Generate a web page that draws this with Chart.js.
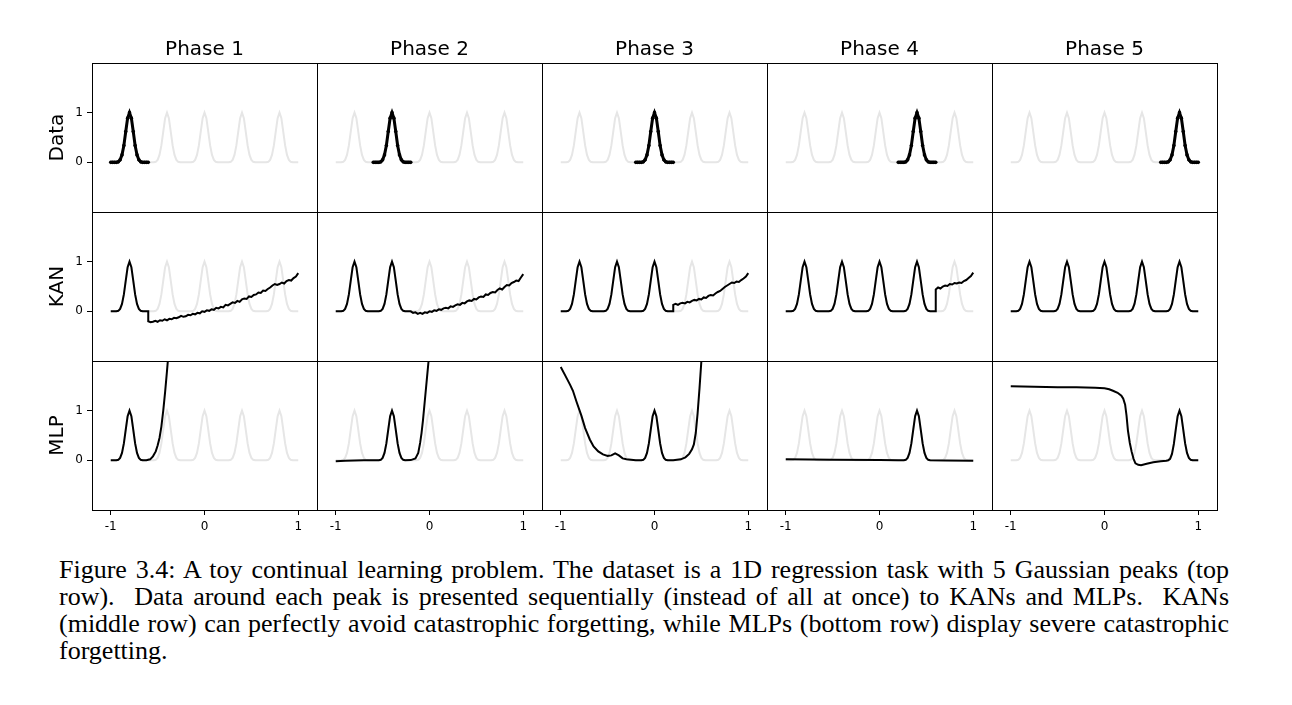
<!DOCTYPE html>
<html>
<head>
<meta charset="utf-8">
<script src="https://cdn.jsdelivr.net/npm/chart.js@4.4.1/dist/chart.umd.min.js"></script>
<style>
  html, body { margin: 0; padding: 0; background: #fff; width: 1292px; height: 705px; overflow: hidden; }
  canvas { position: absolute; }
  #caption { position: absolute; left: 59px; top: 556px; width: 1170px; font-family: 'Liberation Serif', 'Times New Roman', serif; font-size: 26px; line-height: 27px; color: #000; }
  #caption .ln { text-align: justify; text-align-last: justify; }
  #caption .last { text-align-last: left; }
</style>
</head>
<body>
<div id="caption">
  <div class="ln">Figure 3.4: A toy continual learning problem. The dataset is a 1D regression task with 5 Gaussian peaks (top</div>
  <div class="ln">row). &nbsp;Data around each peak is presented sequentially (instead of all at once) to KANs and MLPs. &nbsp;KANs</div>
  <div class="ln">(middle row) can perfectly avoid catastrophic forgetting, while MLPs (bottom row) display severe catastrophic</div>
  <div class="ln last">forgetting.</div>
</div>
<script>
// ---------------- data ----------------
const phases = ['Phase 1', 'Phase 2', 'Phase 3', 'Phase 4', 'Phase 5'];
const rowLabels = ['Data', 'KAN', 'MLP'];
const xTicks = [-1, 0, 1];
const yTicks = [0, 1];

// sample grid of the target function and its values (5 Gaussian peaks)
const gridX = [-1,-0.98,-0.96,-0.94,-0.92,-0.9,-0.88,-0.86,-0.84,-0.82,-0.8,-0.78,-0.76,-0.74,-0.72,-0.7,-0.68,-0.66,-0.64,-0.62,
  -0.6,-0.58,-0.56,-0.54,-0.52,-0.5,-0.48,-0.46,-0.44,-0.42,-0.4,-0.38,-0.36,-0.34,-0.32,-0.3,-0.28,-0.26,-0.24,-0.22,
  -0.2,-0.18,-0.16,-0.14,-0.12,-0.1,-0.08,-0.06,-0.04,-0.02,0,0.02,0.04,0.06,0.08,0.1,0.12,0.14,0.16,0.18,
  0.2,0.22,0.24,0.26,0.28,0.3,0.32,0.34,0.36,0.38,0.4,0.42,0.44,0.46,0.48,0.5,0.52,0.54,0.56,0.58,
  0.6,0.62,0.64,0.66,0.68,0.7,0.72,0.74,0.76,0.78,0.8,0.82,0.84,0.86,0.88,0.9,0.92,0.94,0.96,0.98,1];
const peakY = [0,0,0,0,0.01,0.05,0.15,0.34,0.62,0.89,1,0.89,0.62,0.34,0.15,0.05,0.01,0,0,0,
  0,0,0,0,0.01,0.05,0.15,0.34,0.62,0.89,1,0.89,0.62,0.34,0.15,0.05,0.01,0,0,0,
  0,0,0,0,0.01,0.05,0.15,0.34,0.62,0.89,1,0.89,0.62,0.34,0.15,0.05,0.01,0,0,0,
  0,0,0,0,0.01,0.05,0.15,0.34,0.62,0.89,1,0.89,0.62,0.34,0.15,0.05,0.01,0,0,0,
  0,0,0,0,0.01,0.05,0.15,0.34,0.62,0.89,1,0.89,0.62,0.34,0.15,0.05,0.01,0,0,0,
  0];

// KAN: noisy tail beyond the learned peaks (x grid and per-phase values)
const kanX = [-0.6,-0.575,-0.55,-0.525,-0.5,-0.475,-0.45,-0.425,-0.4,-0.375,-0.35,-0.325,-0.3,-0.275,-0.25,-0.225,
  -0.2,-0.175,-0.15,-0.125,-0.1,-0.075,-0.05,-0.025,0,0.025,0.05,0.075,0.1,0.125,0.15,0.175,
  0.2,0.225,0.25,0.275,0.3,0.325,0.35,0.375,0.4,0.425,0.45,0.475,0.5,0.525,0.55,0.575,
  0.6,0.625,0.65,0.675,0.7,0.725,0.75,0.775,0.8,0.825,0.85,0.875,0.9,0.925,0.95,0.975,1];
const kanTail1 = [-0.20,-0.22,-0.21,-0.19,-0.21,-0.18,-0.19,-0.16,-0.18,-0.15,-0.16,-0.13,-0.14,-0.12,-0.09,-0.11,
  -0.10,-0.07,-0.08,-0.05,-0.06,-0.03,-0.04,0.00,-0.01,0.02,0.01,0.04,0.03,0.07,0.06,0.09,
  0.08,0.13,0.12,0.15,0.18,0.17,0.21,0.19,0.24,0.26,0.25,0.30,0.29,0.33,0.34,0.38,
  0.37,0.42,0.41,0.45,0.48,0.52,0.55,0.53,0.55,0.58,0.56,0.61,0.63,0.62,0.67,0.70,0.77];
const kanTail2 = [0.00,-0.03,-0.02,-0.05,-0.03,-0.05,-0.02,-0.03,0.00,-0.01,0.02,0.01,0.04,0.03,0.06,0.07,
  0.06,0.10,0.09,0.12,0.14,0.13,0.17,0.16,0.20,0.22,0.21,0.25,0.24,0.28,0.30,0.29,
  0.34,0.33,0.37,0.39,0.38,0.43,0.46,0.44,0.49,0.53,0.52,0.57,0.59,0.62,0.61,0.68,0.75];
const kanTail3 = [0.13,0.15,0.13,0.16,0.17,0.16,0.19,0.18,0.21,0.23,0.22,0.25,0.24,0.28,0.27,0.31,
  0.33,0.32,0.36,0.39,0.41,0.45,0.49,0.52,0.55,0.58,0.57,0.60,0.59,0.63,0.66,0.70,0.77];
const kanTail4 = [0.44,0.48,0.46,0.50,0.52,0.51,0.55,0.54,0.57,0.56,0.58,0.57,0.61,0.63,0.67,0.71,0.78];
const kanTails = [kanTail1, kanTail2, kanTail3, kanTail4, []];

// MLP fits after each phase
const mlp1X = [-1,-0.96,-0.94,-0.92,-0.9,-0.88,-0.86,-0.84,-0.82,-0.8,-0.78,-0.76,-0.74,-0.72,-0.7,-0.68,-0.66,-0.62,-0.58,-0.55,-0.52,-0.5,-0.48,-0.46,-0.44,-0.42,-0.4,-0.38];
const mlp1Y = [0,0,0,0.01,0.05,0.15,0.34,0.62,0.89,1,0.89,0.62,0.34,0.15,0.05,0.01,0,0,0.02,0.08,0.18,0.3,0.45,0.68,1.0,1.38,1.8,2.25];
const mlp2X = [-1,-0.9,-0.8,-0.7,-0.6,-0.54,-0.52,-0.5,-0.48,-0.46,-0.44,-0.42,-0.4,-0.38,-0.36,-0.34,-0.32,-0.3,-0.28,-0.26,-0.2,-0.15,-0.12,-0.1,-0.085,-0.07,-0.05,-0.03,-0.01,0.01];
const mlp2Y = [-0.02,-0.01,-0.005,0,0,0,0.01,0.05,0.15,0.34,0.62,0.89,1,0.89,0.62,0.34,0.15,0.05,0.01,0,0.005,0.04,0.15,0.35,0.55,0.8,1.2,1.6,2.0,2.4];
const mlp3X = [-1,-0.95,-0.9,-0.87,-0.83,-0.78,-0.74,-0.69,-0.65,-0.6,-0.55,-0.5,-0.46,-0.42,-0.38,-0.34,-0.3,-0.2,-0.14,-0.12,-0.1,-0.08,-0.06,-0.04,-0.02,0,0.02,0.04,0.06,0.08,0.1,0.12,0.14,0.2,0.28,0.33,0.37,0.4,0.42,0.44,0.46,0.48,0.5,0.52];
const mlp3Y = [1.88,1.7,1.52,1.4,1.17,0.9,0.65,0.42,0.28,0.18,0.12,0.09,0.1,0.14,0.1,0.04,0.02,0,0,0.01,0.05,0.15,0.34,0.62,0.89,1.0,0.89,0.62,0.34,0.15,0.05,0.01,0,0,0.02,0.06,0.13,0.22,0.32,0.55,0.95,1.45,2.0,2.5];
const mlp4X = [-1,-0.5,0,0.2,0.26,0.28,0.3,0.32,0.34,0.36,0.38,0.4,0.42,0.44,0.46,0.48,0.5,0.52,0.54,0.7,1];
const mlp4Y = [0.02,0.01,0.005,0,0,0.01,0.05,0.15,0.34,0.62,0.89,1,0.89,0.62,0.34,0.15,0.05,0.01,0,-0.005,-0.01];
const mlp5X = [-1,-0.5,-0.3,-0.1,0,0.05,0.09,0.14,0.18,0.2,0.22,0.235,0.25,0.27,0.29,0.31,0.33,0.36,0.39,0.45,0.52,0.6,0.66,0.68,0.7,0.72,0.74,0.76,0.78,0.8,0.82,0.84,0.86,0.88,0.9,0.92,0.94,1];
const mlp5Y = [1.49,1.47,1.47,1.46,1.45,1.43,1.4,1.36,1.3,1.24,1.12,0.9,0.6,0.35,0.17,0.03,-0.06,-0.09,-0.1,-0.07,-0.04,-0.02,-0.01,0,0.03,0.13,0.33,0.62,0.89,1,0.89,0.62,0.34,0.15,0.05,0.01,0,0];
const mlpX = [mlp1X, mlp2X, mlp3X, mlp4X, mlp5X];
const mlpY = [mlp1Y, mlp2Y, mlp3Y, mlp4Y, mlp5Y];

// ---------------- layout ----------------
const COL_LEFT = [92, 317, 542, 767, 992];
const ROW_TOP = [63, 212, 361];
const PW = 225, PH = 149;
const YW = 46, XH = 36, PAD_TOP = 16, TITLE_H = 25, PAD_RIGHT = 6, PAD_BOTTOM = 2;
const GRAY = '#e6e6e6';
const FONT = 'DejaVu Sans';

function pts(xs, ys) { return ys.map((y, i) => ({ x: xs[i], y: y })); }

function blackSeries(row, col) {
  if (row === 0) {
    const a = 20 * col, b = 20 * col + 21;
    return pts(gridX.slice(a, b), peakY.slice(a, b));
  }
  if (row === 1) {
    const end = 20 * (col + 1) + 1;
    const head = pts(gridX.slice(0, end), peakY.slice(0, end));
    const tail = kanTails[col];
    const tx = kanX.slice(kanX.length - tail.length);
    return head.concat(pts(tx, tail));
  }
  return pts(mlpX[col], mlpY[col]);
}

const framePlugin = {
  id: 'frame',
  afterDraw(chart) {
    const { ctx, chartArea: a } = chart;
    ctx.save();
    ctx.strokeStyle = '#000';
    ctx.lineWidth = 1;
    const l = Math.round(a.left) + 0.5, t = Math.round(a.top) + 0.5;
    const r = Math.round(a.right) + 0.5, b = Math.round(a.bottom) + 0.5;
    ctx.strokeRect(l, t, r - l, b - t);
    ctx.restore();
  }
};

function makeChart(row, col) {
  const hasTitle = row === 0;
  const padTop = hasTitle ? 5 : PAD_TOP;
  const cv = document.createElement('canvas');
  const w = YW + PW + PAD_RIGHT;
  const h = padTop + (hasTitle ? TITLE_H : 0) + PH + XH + PAD_BOTTOM;
  cv.width = w; cv.height = h;
  cv.style.left = (COL_LEFT[col] - YW) + 'px';
  cv.style.top = (ROW_TOP[row] - padTop - (hasTitle ? TITLE_H : 0)) + 'px';
  cv.style.width = w + 'px'; cv.style.height = h + 'px';
  document.body.appendChild(cv);

  const isData = row === 0;
  const black = {
    data: blackSeries(row, col),
    borderColor: '#000',
    backgroundColor: '#000',
    borderWidth: isData ? 3 : 2,
    pointRadius: isData ? 1.8 : 0,
    pointBorderWidth: 0,
    pointBackgroundColor: '#000',
    tension: 0,
    clip: 0,
    fill: false
  };
  const gray = {
    data: pts(gridX, peakY),
    borderColor: GRAY,
    borderWidth: 2,
    pointRadius: 0,
    tension: 0,
    clip: 0,
    fill: false
  };

  new Chart(cv, {
    type: 'line',
    data: { datasets: [black, gray] },
    options: {
      responsive: false,
      animation: false,
      events: [],
      layout: { padding: { left: 0, right: PAD_RIGHT, top: padTop, bottom: PAD_BOTTOM } },
      plugins: {
        legend: { display: false },
        tooltip: { enabled: false },
        title: {
          display: hasTitle,
          text: phases[col],
          fullSize: false,
          color: '#000',
          font: { family: FONT, size: 20, weight: 'normal', lineHeight: 1.2 },
          padding: { top: 0, bottom: 1 }
        }
      },
      scales: {
        x: {
          type: 'linear', position: 'bottom', min: -1.2, max: 1.2,
          afterFit: s => { s.height = XH; },
          afterBuildTicks: s => { s.ticks = xTicks.map(v => ({ value: v })); },
          border: { display: false },
          grid: { display: row === 2, drawOnChartArea: false, drawTicks: true, tickLength: 5, color: '#000', lineWidth: 1 },
          ticks: { display: row === 2, padding: 5, color: '#000', autoSkip: false, maxRotation: 0,
                   font: { family: FONT, size: 12 }, callback: v => String(v) }
        },
        y: {
          type: 'linear', position: 'left', min: -1, max: 2,
          afterFit: s => { s.width = YW; },
          afterBuildTicks: s => { s.ticks = yTicks.map(v => ({ value: v })); },
          border: { display: false },
          grid: { display: col === 0, drawOnChartArea: false, drawTicks: true, tickLength: 5, color: '#000', lineWidth: 1 },
          ticks: { display: col === 0, padding: 4, color: '#000', autoSkip: false,
                   font: { family: FONT, size: 12 }, callback: v => String(v) },
          title: { display: col === 0, text: rowLabels[row], color: '#000', padding: { top: 0, bottom: 0 },
                   font: { family: FONT, size: 20, weight: 'normal', lineHeight: 1.2 } }
        }
      }
    },
    plugins: [framePlugin]
  });
}

for (let r = 0; r < 3; r++) for (let c = 0; c < 5; c++) makeChart(r, c);
</script>
</body>
</html>
